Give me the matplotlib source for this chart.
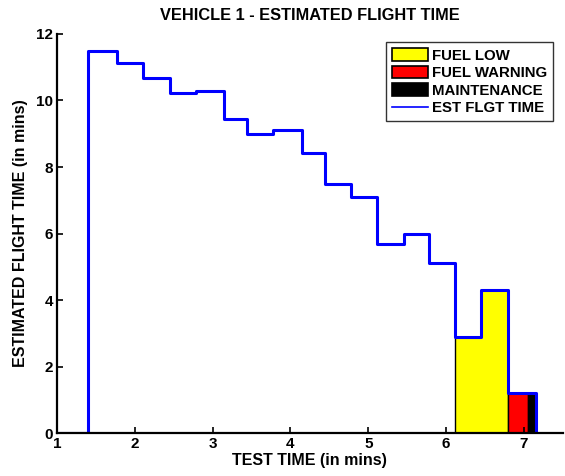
import numpy as np
import matplotlib
matplotlib.use("Agg")
import matplotlib.pyplot as plt
from matplotlib.patches import Patch
from matplotlib.lines import Line2D

plt.rcParams['font.family'] = ['Liberation Sans', 'DejaVu Sans']
plt.rcParams['font.weight'] = 'bold'

# Estimated flight time (step series), test time in mins
test_time = [1.00, 1.40, 1.77, 2.11, 2.45, 2.78, 3.14, 3.44, 3.78, 4.15,
             4.45, 4.78, 5.11, 5.46, 5.78, 6.12, 6.45, 6.79, 7.15]
est_flight = [0.0, 11.5, 11.13, 10.68, 10.23, 10.28, 9.45, 9.0, 9.1, 8.43,
              7.48, 7.1, 5.68, 6.0, 5.12, 2.9, 4.3, 1.22, 0.0]

# State intervals (start, end) in test time
states = ['FUEL LOW', 'FUEL WARNING', 'MAINTENANCE']
state_start = [6.12, 6.79, 7.05]
state_end = [6.79, 7.05, 7.15]
state_colors = ['#ffff00', '#ff0000', '#000000']


def step_value(t):
    idx = np.searchsorted(test_time, t, side='right') - 1
    return est_flight[idx]


fig = plt.figure(figsize=(5.65, 4.76), dpi=100)
ax = fig.add_axes([0.101, 0.0897, 0.895, 0.839])

for s0, s1, col in zip(state_start, state_end, state_colors):
    xs = [t for t in test_time if s0 < t < s1]
    xs = [s0] + xs + [s1]
    ys = [step_value(t) for t in xs[:-1]] + [step_value(xs[-2])]
    ax.fill_between(xs, ys, 0, step='post', facecolor=col,
                    edgecolor='black', linewidth=1.0)

ax.plot(test_time, est_flight, color='#0000ff', linewidth=2.2,
        drawstyle='steps-post')

ax.set_xlim(1, 7.5)
ax.set_ylim(0, 12)
ax.set_xticks(range(1, 8))
ax.set_yticks(range(0, 13, 2))
ax.spines['top'].set_visible(False)
ax.spines['right'].set_visible(False)
ax.spines['left'].set_linewidth(1.6)
ax.spines['bottom'].set_linewidth(1.6)
ax.tick_params(direction='in', length=4, width=1.2, labelsize=11, pad=3)

ax.set_xlabel('TEST TIME (in mins)', fontsize=11.5, fontweight='bold', labelpad=1)
ax.set_ylabel('ESTIMATED FLIGHT TIME (in mins)', fontsize=11.5, fontweight='bold', labelpad=6)
ax.set_title('VEHICLE 1 - ESTIMATED FLIGHT TIME', fontsize=11.8, fontweight='bold', pad=10)

handles = [Patch(facecolor=c, edgecolor='black', linewidth=1.2, label=s)
           for s, c in zip(states, state_colors)]
handles.append(Line2D([0], [0], color='#0000ff', linewidth=1.2, label='EST FLGT TIME'))
leg = ax.legend(handles=handles, loc='upper right', bbox_to_anchor=(0.98, 0.98),
                fontsize=10.8, frameon=True, fancybox=False, edgecolor='black',
                borderpad=0.4, labelspacing=0.2, handlelength=2.4,
                handleheight=0.95, handletextpad=0.25, borderaxespad=0)
leg.get_frame().set_linewidth(1.0)

fig.savefig('out.png', dpi=100)
